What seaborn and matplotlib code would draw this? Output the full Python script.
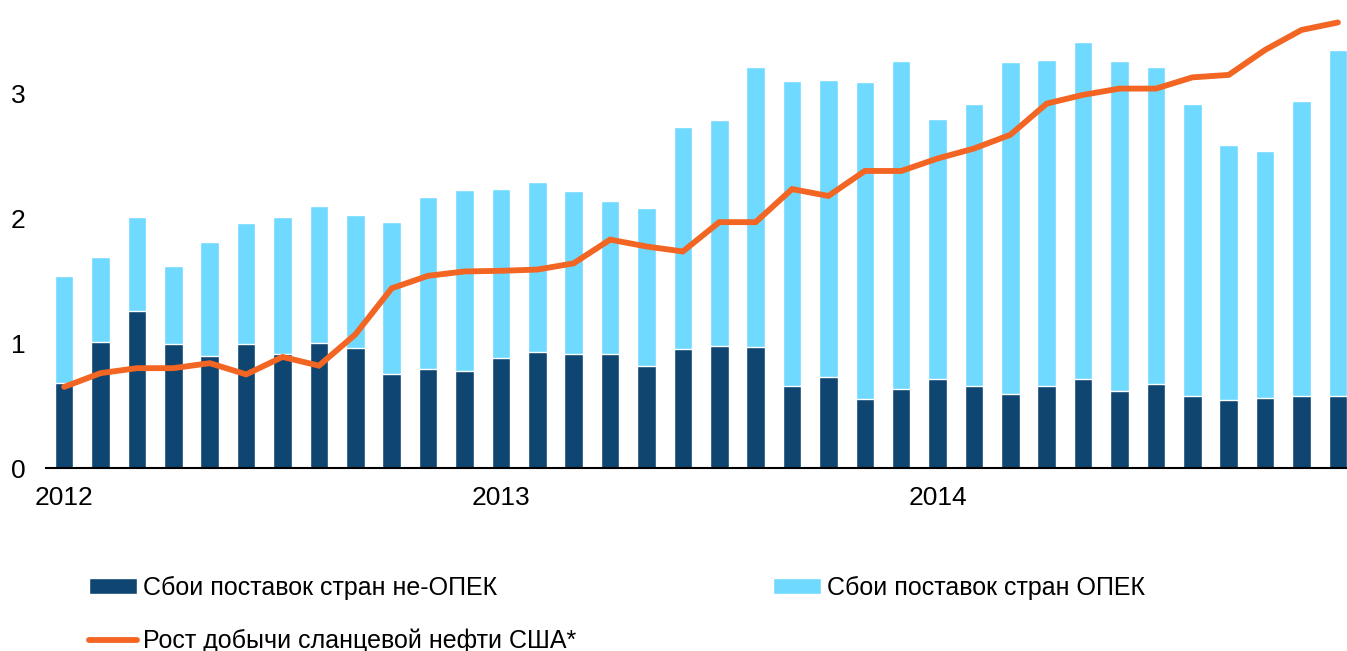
import numpy as np
import pandas as pd
import matplotlib
matplotlib.use('Agg')
import matplotlib.pyplot as plt
import seaborn as sns
from matplotlib.patches import Patch
from matplotlib.lines import Line2D

# Monthly data, Jan 2012 - Dec 2014 (mb/d)
months = [f'{y}-{m:02d}' for y in (2012, 2013, 2014) for m in range(1, 13)]
non_opec = [0.68, 1.01, 1.26, 0.99, 0.90, 0.99, 0.91, 1.00, 0.96, 0.75, 0.79, 0.78,
            0.88, 0.93, 0.91, 0.91, 0.82, 0.95, 0.98, 0.97, 0.66, 0.73, 0.55, 0.63,
            0.71, 0.66, 0.59, 0.66, 0.71, 0.62, 0.67, 0.58, 0.545, 0.56, 0.58, 0.58]
total = [1.535, 1.69, 2.01, 1.62, 1.81, 1.96, 2.01, 2.10, 2.03, 1.97, 2.17, 2.23,
         2.235, 2.29, 2.22, 2.14, 2.085, 2.73, 2.79, 3.21, 3.10, 3.11, 3.09, 3.26,
         2.80, 2.92, 3.25, 3.27, 3.41, 3.26, 3.21, 2.92, 2.59, 2.54, 2.94, 3.35]
shale = [0.65, 0.76, 0.80, 0.80, 0.84, 0.75, 0.89, 0.82, 1.07, 1.44, 1.54, 1.575,
         1.58, 1.59, 1.64, 1.83, 1.775, 1.735, 1.97, 1.97, 2.235, 2.18, 2.38, 2.38,
         2.48, 2.56, 2.67, 2.92, 2.99, 3.04, 3.04, 3.13, 3.15, 3.35, 3.51, 3.57]
year_labels = ['2012', '2013', '2014']

df = pd.DataFrame({'month': months, 'non_opec': non_opec, 'total': total,
                   'shale': shale, 'idx': np.arange(len(months))})

dark = '#0E4571'
light = '#70D9FF'
orange = '#F26522'

sns.set_style('white')
plt.rcParams['font.family'] = ['Liberation Sans', 'DejaVu Sans']
plt.rcParams['text.color'] = 'black'
plt.rcParams['xtick.color'] = 'black'
plt.rcParams['ytick.color'] = 'black'

fig = plt.figure(figsize=(13.47, 6.51), dpi=100)
ax = fig.add_axes([46 / 1347, 1 - 468 / 651, 1 - 46 / 1347, 468 / 651])

# stacked bars: total (OPEC on top) then non-OPEC over it
sns.barplot(data=df, x='month', y='total', color=light, saturation=1, width=0.51, ax=ax)
sns.barplot(data=df, x='month', y='non_opec', color=dark, saturation=1, width=0.51, ax=ax)
sns.lineplot(data=df, x='idx', y='shale', color=orange, linewidth=4.2, ax=ax,
             solid_capstyle='round', solid_joinstyle='miter')

ax.set_xlim(-0.5, 35.25)
ax.set_ylim(0, 3.75)
ax.set_xticks([0, 12, 24])
ax.set_xticklabels(year_labels)
ax.set_yticks([0, 1, 2, 3])
ax.set_xlabel('')
ax.set_ylabel('')
ax.tick_params(axis='both', length=0, labelsize=19)
ax.tick_params(axis='x', pad=13)
ax.tick_params(axis='y', pad=15)
sns.despine(ax=ax, left=True)
ax.spines['bottom'].set_color('black')
ax.spines['bottom'].set_linewidth(1.5)

h_dark = Patch(facecolor=dark, label='Сбои поставок стран не-ОПЕК')
h_light = Patch(facecolor=light, label='Сбои поставок стран ОПЕК')
h_line = Line2D([], [], color=orange, linewidth=4.2, solid_capstyle='round',
                label='Рост добычи сланцевой нефти США*')

leg_kw = dict(loc='upper left', frameon=False, fontsize=18, handlelength=1.9,
              handleheight=0.58, handletextpad=0.25, borderpad=0, borderaxespad=0)
fig.legend(handles=[h_dark, h_line], bbox_to_anchor=(89 / 1347, 1 - 576 / 651),
           labelspacing=1.15, **leg_kw)
fig.legend(handles=[h_light], bbox_to_anchor=(773 / 1347, 1 - 576 / 651), **leg_kw)

fig.savefig('out.png', dpi=100)
